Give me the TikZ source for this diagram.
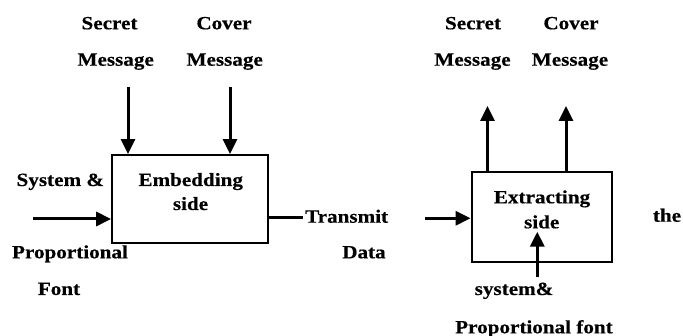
\documentclass[tikz,border=0pt]{standalone}
\usepackage{fontspec}
\setmainfont{Liberation Serif}[FakeStretch=1.13,FakeBold=0.4]
\usetikzlibrary{arrows.meta}
\begin{document}
\begin{tikzpicture}[x=1pt,y=-1pt,
  lbl/.style={inner sep=0pt,anchor=base,font=\fontsize{18.7}{22}\selectfont\bfseries},
  boxn/.style={draw,line width=2.3pt,inner sep=0pt},
  arr/.style={line width=3pt,-{Triangle[length=15pt,width=14pt]}},
  plain/.style={line width=2.2pt}]
\useasboundingbox (0,0) rectangle (683,336);
% left side
\node[boxn,minimum width=156pt,minimum height=88pt] (emb) at (190.3,199.2) {};
\node[lbl] (embA) at (190.7,186) {Embedding};
\node[lbl] (embB) at (190.5,210) {side};
\node[lbl] (s1) at (109.5,29.3) {Secret};
\node[lbl] (s1m) at (115.7,65.7) {Message};
\node[lbl] (c1) at (224,29.3) {Cover};
\node[lbl] (c1m) at (224.7,65.7) {Message};
\node[lbl] (sys1) at (60.3,186) {System \&};
\node[lbl] (prop1) at (70,258.3) {Proportional};
\node[lbl] (font1) at (59,295) {Font};
\node[lbl,anchor=base west] (tr) at (305,222.7) {Transmit};
\node[lbl] (data) at (364,258.3) {Data};
\coordinate (t1) at (128,87.5);
\coordinate (t2) at (230,87.5);
\coordinate (t3) at (33,219);
\coordinate (t4) at (303,217.5);
\draw[arr] (t1) -- (t1 |- emb.north);
\draw[arr] (t2) -- (t2 |- emb.north);
\draw[arr] (t3) -- (t3 -| emb.west);
\draw[plain] (t4 -| emb.east) -- (t4);
% right side
\node[boxn,minimum width=140.6pt,minimum height=90pt] (ext) at (542,217.3) {};
\node[lbl] (extA) at (542,203.3) {Extracting};
\node[lbl] (extB) at (541.7,228.3) {side};
\node[lbl] (s2) at (473,29.3) {Secret};
\node[lbl] (s2m) at (472.5,65.7) {Message};
\node[lbl] (c2) at (571,29.3) {Cover};
\node[lbl] (c2m) at (570,65.7) {Message};
\node[lbl] (the) at (667,221.7) {the};
\node[lbl] (sys2) at (514,295) {system\&};
\node[lbl] (prop2) at (534,333.3) {Proportional font};
\coordinate (u1) at (487.5,106);
\coordinate (u2) at (566,106);
\coordinate (r1) at (425,218.3);
\coordinate (b1) at (537.3,277.3);
\coordinate (b2) at (537.3,231.7);
\draw[arr] (u1 |- ext.north) -- (u1);
\draw[arr] (u2 |- ext.north) -- (u2);
\draw[arr] (r1) -- (r1 -| ext.west);
\draw[arr] (b1) -- (b2);
\end{tikzpicture}
\end{document}
